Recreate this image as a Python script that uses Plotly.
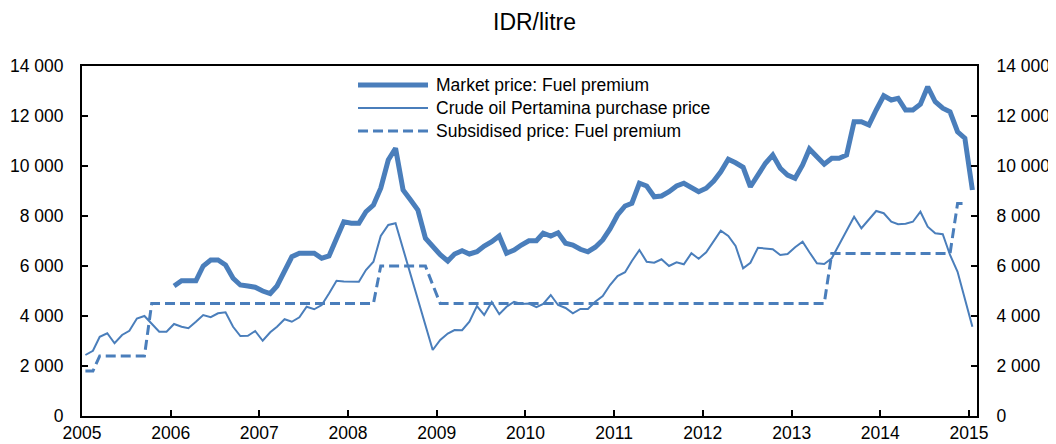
import plotly.graph_objects as go

# Monthly dates Jan 2005 .. Jan 2015 (mid-month)
months = [f"{2005 + i // 12}-{i % 12 + 1:02d}-15" for i in range(121)]

crude_oil = [
    2440, 2610, 3170, 3310, 2910, 3240, 3410, 3900, 4000, 3700, 3370, 3370,
    3680, 3570, 3510, 3770, 4040, 3950, 4110, 4150, 3570, 3200, 3210, 3400,
    3010, 3350, 3570, 3870, 3770, 3950, 4370, 4270, 4440, 4900, 5410, 5380,
    5370, 5370, 5840, 6170, 7200, 7640, 7710, 6700, 5680, 4670, 3650, 2640,
    3040, 3300, 3440, 3430, 3770, 4400, 4040, 4560, 4070, 4370, 4570, 4480,
    4500, 4350, 4480, 4840, 4440, 4320, 4110, 4280, 4280, 4570, 4800, 5240,
    5600, 5750, 6200, 6640, 6170, 6130, 6270, 6000, 6150, 6070, 6510, 6290,
    6550, 6970, 7410, 7200, 6800, 5910, 6130, 6730, 6710, 6670, 6440, 6480,
    6750, 6970, 6550, 6110, 6080, 6310, 6850, 7400, 7970, 7510, 7880, 8200,
    8110, 7770, 7670, 7690, 7770, 8170, 7570, 7310, 7270, 6440, 5770, 4700,
    3570,
]

# Market price starts Jan 2006
market_price = [
    5200, 5410, 5410, 5410, 6000, 6240, 6240, 6040, 5510, 5240, 5200, 5150,
    5000, 4900, 5200, 5840, 6370, 6510, 6510, 6510, 6310, 6400, 7100, 7770,
    7710, 7710, 8170, 8440, 9110, 10240, 10710, 9040, 8640, 8240, 7110, 6770,
    6450, 6200, 6480, 6610, 6480, 6570, 6800, 6970, 7200, 6510, 6640, 6840,
    7010, 7010, 7310, 7200, 7330, 6910, 6840, 6670, 6570, 6750, 7040, 7480,
    8040, 8400, 8510, 9310, 9200, 8770, 8800, 8970, 9200, 9310, 9110, 8970,
    9110, 9400, 9770, 10270, 10130, 9950, 9170, 9670, 10110, 10440, 9910, 9640,
    9510, 10040, 10680, 10370, 10070, 10310, 10310, 10440, 11770, 11770, 11640, 12240,
    12810, 12640, 12710, 12240, 12240, 12470, 13170, 12570, 12310, 12170, 11370, 11110,
    9040,
]

# Subsidised price Jan 2005 .. Dec 2014
subsidised = [
    1800, 1800, 2400, 2400, 2400, 2400, 2400, 2400, 2400, 4500, 4500, 4500,
    4500, 4500, 4500, 4500, 4500, 4500, 4500, 4500, 4500, 4500, 4500, 4500,
    4500, 4500, 4500, 4500, 4500, 4500, 4500, 4500, 4500, 4500, 4500, 4500,
    4500, 4500, 4500, 4500, 6000, 6000, 6000, 6000, 6000, 6000, 6000, 5250,
    4500, 4500, 4500, 4500, 4500, 4500, 4500, 4500, 4500, 4500, 4500, 4500,
    4500, 4500, 4500, 4500, 4500, 4500, 4500, 4500, 4500, 4500, 4500, 4500,
    4500, 4500, 4500, 4500, 4500, 4500, 4500, 4500, 4500, 4500, 4500, 4500,
    4500, 4500, 4500, 4500, 4500, 4500, 4500, 4500, 4500, 4500, 4500, 4500,
    4500, 4500, 4500, 4500, 4500, 6500, 6500, 6500, 6500, 6500, 6500, 6500,
    6500, 6500, 6500, 6500, 6500, 6500, 6500, 6500, 6500, 6500, 8500, 8500,
]

series_names = [
    "Market price: Fuel premium",
    "Crude oil Pertamina purchase price",
    "Subsidised price: Fuel premium",
]
year_ticks = [f"{y}-01-01" for y in range(2005, 2016)]
year_labels = [str(y) for y in range(2005, 2016)]

BLUE = "#4a7ebb"
FONT = "Liberation Sans, Arial, sans-serif"

fig = go.Figure()
fig.add_trace(go.Scatter(x=months[12:], y=market_price, mode="lines",
                         line=dict(color=BLUE, width=5), name=series_names[0]))
fig.add_trace(go.Scatter(x=months, y=crude_oil, mode="lines",
                         line=dict(color=BLUE, width=2), name=series_names[1]))
fig.add_trace(go.Scatter(x=months[:120], y=subsidised, mode="lines",
                         line=dict(color=BLUE, width=3, dash="10px,5px"),
                         name=series_names[2], yaxis="y2"))

axis_font = dict(family=FONT, size=17.5, color="black")
fig.update_layout(
    width=1048, height=436,
    margin=dict(l=74, r=79, t=58, b=28, autoexpand=False),
    paper_bgcolor="white", plot_bgcolor="white",
    showlegend=False,
    separators=". ",
    xaxis=dict(type="date", range=["2005-01-01", "2015-02-03"],
               tickvals=year_ticks, ticktext=year_labels, automargin=False,
               ticks="inside", ticklen=6, tickwidth=1.5, tickcolor="black",
               showline=True, linecolor="black", linewidth=2, mirror=True,
               showgrid=False, zeroline=False, tickfont=axis_font,
               ticklabelstandoff=0),
    yaxis=dict(range=[0, 14000], dtick=2000, tick0=0, tickformat=",d",
               automargin=False,
               ticks="inside", ticklen=6, tickwidth=1.5, tickcolor="black",
               showline=True, linecolor="black", linewidth=2,
               showgrid=False, zeroline=False, tickfont=axis_font,
               ticklabelstandoff=13),
    yaxis2=dict(range=[0, 14000], dtick=2000, tick0=0, tickformat=",d",
                overlaying="y", side="right", automargin=False,
                ticks="inside", ticklen=6, tickwidth=1.5, tickcolor="black",
                showline=True, linecolor="black", linewidth=2,
                showgrid=False, zeroline=False, tickfont=axis_font,
                ticklabelstandoff=14),
)

# Title
fig.add_annotation(text="IDR/litre", xref="paper", yref="paper", x=0.506, y=1.126,
                   xanchor="center", yanchor="middle", showarrow=False,
                   font=dict(family=FONT, size=23, color="black"))

# Custom legend (long line samples like the original)
legend_rows = [0.9457, 0.88, 0.8143]
legend_styles = [dict(width=5), dict(width=2), dict(width=3, dash="10px,5px")]
for name, yy, st in zip(series_names, legend_rows, legend_styles):
    fig.add_shape(type="line", xref="paper", yref="paper", x0=0.3084, x1=0.3866,
                  y0=yy, y1=yy, line=dict(color=BLUE, **st))
    fig.add_annotation(text=name, xref="paper", yref="paper", x=0.3933, y=yy,
                       xanchor="left", yanchor="middle", showarrow=False,
                       font=dict(family=FONT, size=17.5, color="black"))

fig.write_html("out.html")
